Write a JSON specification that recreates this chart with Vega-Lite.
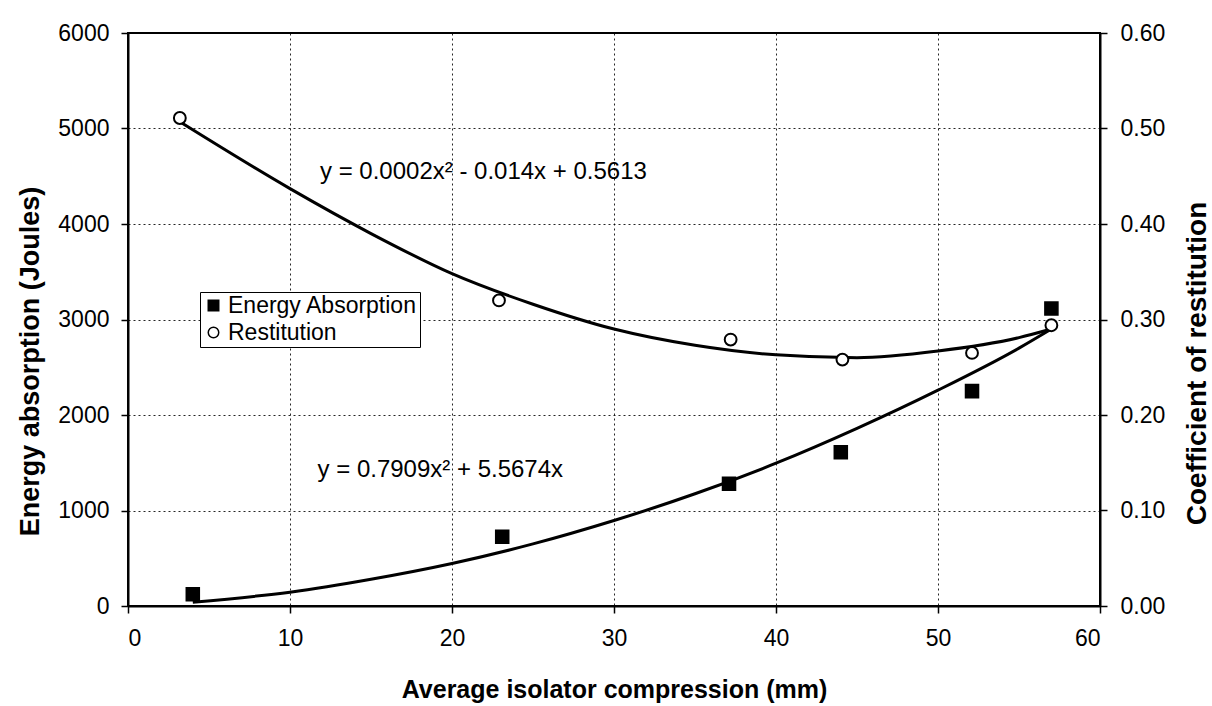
{
  "$schema": "https://vega.github.io/schema/vega-lite/v6.json",
  "width": 972,
  "height": 573,
  "autosize": {"type": "none"},
  "padding": {"left": 128, "top": 33, "right": 112, "bottom": 100},
  "background": "white",
  "config": {
    "font": "Liberation Sans",
    "view": {"stroke": "black", "strokeWidth": 2},
    "axis": {
      "domainColor": "black",
      "domainWidth": 2,
      "tickColor": "black",
      "tickWidth": 1.5,
      "tickSize": 7,
      "labelColor": "black",
      "labelFont": "Liberation Sans",
      "labelFontSize": 23,
      "titleFont": "Liberation Sans",
      "titleFontSize": 25,
      "titleFontWeight": "bold",
      "titleColor": "black",
      "gridColor": "black",
      "gridDash": [2, 3],
      "gridWidth": 1,
      "gridOpacity": 0.85
    }
  },
  "datasets": {
    "points": [
      {"series": "Energy Absorption", "compression": 4.0, "value": 124},
      {"series": "Energy Absorption", "compression": 23.1, "value": 725},
      {"series": "Energy Absorption", "compression": 37.1, "value": 1280},
      {"series": "Energy Absorption", "compression": 44.0, "value": 1610},
      {"series": "Energy Absorption", "compression": 52.1, "value": 2250},
      {"series": "Energy Absorption", "compression": 57.0, "value": 3115},
      {"series": "Restitution", "compression": 3.2, "value": 0.511},
      {"series": "Restitution", "compression": 22.9, "value": 0.320},
      {"series": "Restitution", "compression": 37.2, "value": 0.279},
      {"series": "Restitution", "compression": 44.1, "value": 0.258},
      {"series": "Restitution", "compression": 52.1, "value": 0.265},
      {"series": "Restitution", "compression": 57.0, "value": 0.294}
    ],
    "trend": [
      {"series": "Energy Absorption", "compression": 4, "value": 40},
      {"series": "Energy Absorption", "compression": 10, "value": 145},
      {"series": "Energy Absorption", "compression": 15, "value": 280},
      {"series": "Energy Absorption", "compression": 20, "value": 445},
      {"series": "Energy Absorption", "compression": 25, "value": 650},
      {"series": "Energy Absorption", "compression": 30, "value": 895},
      {"series": "Energy Absorption", "compression": 35, "value": 1175},
      {"series": "Energy Absorption", "compression": 40, "value": 1495},
      {"series": "Energy Absorption", "compression": 45, "value": 1860},
      {"series": "Energy Absorption", "compression": 50, "value": 2260},
      {"series": "Energy Absorption", "compression": 55, "value": 2700},
      {"series": "Energy Absorption", "compression": 57, "value": 2900},
      {"series": "Restitution", "compression": 3.2, "value": 0.507},
      {"series": "Restitution", "compression": 10, "value": 0.437},
      {"series": "Restitution", "compression": 15, "value": 0.390},
      {"series": "Restitution", "compression": 20, "value": 0.348},
      {"series": "Restitution", "compression": 25, "value": 0.316},
      {"series": "Restitution", "compression": 30, "value": 0.290},
      {"series": "Restitution", "compression": 35, "value": 0.273},
      {"series": "Restitution", "compression": 40, "value": 0.263},
      {"series": "Restitution", "compression": 45, "value": 0.260},
      {"series": "Restitution", "compression": 50, "value": 0.267},
      {"series": "Restitution", "compression": 55, "value": 0.281},
      {"series": "Restitution", "compression": 57, "value": 0.290}
    ],
    "labels": [
      {"label": "y = 0.0002x² - 0.014x + 0.5613", "compression": 11.85, "value": 4545},
      {"label": "y = 0.7909x² + 5.5674x", "compression": 11.7, "value": 1424}
    ]
  },
  "encoding": {
    "x": {
      "field": "compression",
      "type": "quantitative",
      "scale": {"domain": [0, 60], "nice": false},
      "axis": {
        "values": [0, 10, 20, 30, 40, 50, 60],
        "title": "Average isolator compression (mm)",
        "grid": true,
        "labelPadding": 14,
        "titlePadding": 27
      }
    }
  },
  "layer": [
    {
      "encoding": {
        "y": {
          "field": "value",
          "type": "quantitative",
          "scale": {"domain": [0, 6000], "nice": false},
          "axis": {
            "orient": "left",
            "values": [0, 1000, 2000, 3000, 4000, 5000, 6000],
            "format": "d",
            "title": "Energy absorption (Joules)",
            "titleFontSize": 27,
            "titleX": -98,
            "titleY": 328,
            "titleAlign": "center",
            "titleBaseline": "middle",
            "titleAngle": 270,
            "grid": true,
            "labelPadding": 12
          }
        }
      },
      "layer": [
        {
          "data": {"name": "trend"},
          "transform": [{"filter": "datum.series === 'Energy Absorption'"}],
          "mark": {"type": "line", "color": "black", "strokeWidth": 3, "interpolate": "monotone"}
        },
        {
          "data": {"name": "points"},
          "transform": [{"filter": "datum.series === 'Energy Absorption'"}],
          "mark": {"type": "point", "filled": true, "stroke": "black", "strokeWidth": 1.5, "size": 170, "opacity": 1},
          "encoding": {
            "shape": {
              "field": "series", "type": "nominal",
              "scale": {"domain": ["Energy Absorption", "Restitution"], "range": ["square", "circle"]},
              "legend": {"title": null, "orient": "none", "legendX": 72, "legendY": 259, "strokeColor": "black", "fillColor": "white", "padding": 2, "labelFontSize": 23, "labelColor": "black", "labelFont": "Liberation Sans", "labelLimit": 500, "symbolSize": 110, "rowPadding": 3, "labelOffset": 3,
                "encode": {"symbols": {"update": {"stroke": {"value": "black"}, "strokeWidth": {"value": 1.5}}}}}
            },
            "fill": {
              "field": "series", "type": "nominal",
              "scale": {"domain": ["Energy Absorption", "Restitution"], "range": ["black", "white"]},
              "legend": {"title": null, "orient": "none", "legendX": 72, "legendY": 259, "strokeColor": "black", "fillColor": "white", "padding": 2, "labelFontSize": 23, "labelColor": "black", "labelFont": "Liberation Sans", "labelLimit": 500, "symbolSize": 110, "rowPadding": 3, "labelOffset": 3,
                "encode": {"symbols": {"update": {"stroke": {"value": "black"}, "strokeWidth": {"value": 1.5}}}}}
            }
          }
        },
        {
          "data": {"name": "labels"},
          "mark": {"type": "text", "align": "left", "baseline": "middle", "fontSize": 24, "font": "Liberation Sans", "color": "black"},
          "encoding": {"text": {"field": "label", "type": "nominal"}}
        }
      ]
    },
    {
      "encoding": {
        "y": {
          "field": "value",
          "type": "quantitative",
          "scale": {"domain": [0, 0.6], "nice": false},
          "axis": {
            "orient": "right",
            "values": [0, 0.1, 0.2, 0.3, 0.4, 0.5, 0.6],
            "format": ".2f",
            "title": "Coefficient of restitution",
            "titleFontSize": 28,
            "titleX": 97,
            "titleY": 330,
            "titleAlign": "center",
            "titleBaseline": "middle",
            "titleAngle": 270,
            "grid": false,
            "labelPadding": 13
          }
        }
      },
      "layer": [
        {
          "data": {"name": "trend"},
          "transform": [{"filter": "datum.series === 'Restitution'"}],
          "mark": {"type": "line", "color": "black", "strokeWidth": 3, "interpolate": "monotone"}
        },
        {
          "data": {"name": "points"},
          "transform": [{"filter": "datum.series === 'Restitution'"}],
          "mark": {"type": "point", "filled": true, "stroke": "black", "strokeWidth": 2, "size": 140, "opacity": 1},
          "encoding": {
            "shape": {"field": "series", "type": "nominal"},
            "fill": {"field": "series", "type": "nominal"}
          }
        }
      ]
    }
  ],
  "resolve": {"scale": {"y": "independent"}}
}
